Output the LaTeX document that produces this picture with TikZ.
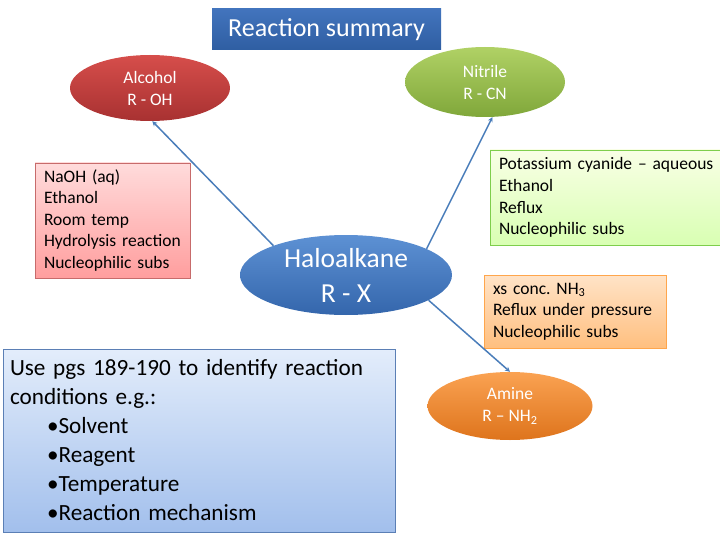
\documentclass[tikz,border=0pt]{standalone}
\usepackage{fontspec}
\setmainfont{Carlito}
\usepackage{xcolor}
\usepackage{tikz}
\usetikzlibrary{shapes.geometric, arrows.meta, positioning}
\frenchspacing

\definecolor{titletop}{HTML}{4274BD}
\definecolor{titlebot}{HTML}{2F5EA2}
\definecolor{alctop}{HTML}{D64E4B}
\definecolor{alcbot}{HTML}{A83131}
\definecolor{nittop}{HTML}{B0D165}
\definecolor{nitbot}{HTML}{80A73A}
\definecolor{haltop}{HTML}{5D91D4}
\definecolor{halbot}{HTML}{3466AC}
\definecolor{amitop}{HTML}{FAA252}
\definecolor{amibot}{HTML}{DE741C}
\definecolor{linkblue}{HTML}{4A7DBA}
\definecolor{notetop}{HTML}{E3EDFB}
\definecolor{notebot}{HTML}{A2BFEC}
\definecolor{noteline}{HTML}{5B7FB5}

\begin{document}
\begin{tikzpicture}[x=1pt, y=-1pt,
  blob/.style={ellipse, inner sep=0pt, draw=none, text=white},
  condbox/.style={rectangle, align=left, inner ysep=0pt, line width=0.6pt},
  link/.style={-{Stealth[length=5pt, width=5pt]}, line width=1.5pt, draw=linkblue}]
  \useasboundingbox (0,0) rectangle (720,540);
  % Title
  \node[rectangle, top color=titletop, bottom color=titlebot, text=white,
        minimum width=229pt, minimum height=41pt, inner sep=0pt,
        font=\fontsize{26}{30}\selectfont] (title) at (326.5,29.5) {Reaction summary};
  % Compounds
  \node[blob, top color=alctop, bottom color=alcbot, minimum width=160pt, minimum height=66pt,
        label={[text=white, align=center, font=\fontsize{17.5}{22}\selectfont]center:Alcohol\\R - OH}] (alc) at (150,88) {};
  \node[blob, top color=nittop, bottom color=nitbot, minimum width=160pt, minimum height=70pt,
        label={[text=white, align=center, font=\fontsize{17.5}{22}\selectfont]center:Nitrile\\R - CN}] (nit) at (485,82) {};
  \node[blob, top color=haltop, bottom color=halbot, minimum width=212pt, minimum height=80pt,
        label={[text=white, align=center, font=\fontsize{27.5}{35}\selectfont]center:Haloalkane\\R - X}] (hal) at (346,275) {};
  \node[blob, top color=amitop, bottom color=amibot, minimum width=165pt, minimum height=68pt,
        label={[text=white, align=center, font=\fontsize{17.5}{22}\selectfont]center:Amine\\R -- NH\textsubscript{2}}] (ami) at (510,406) {};
  % Conditions
  \node[condbox, draw=red!45!gray!80, top color=red!14, bottom color=red!38!white,
        minimum width=155pt, minimum height=115pt, inner xsep=9pt, text width=137pt,
        font=\fontsize{17.5}{21.5}\selectfont] (naoh) at (112.5,220.5)
        {NaOH (aq)\\Ethanol\\Room temp\\Hydrolysis reaction\\Nucleophilic subs};
  \node[condbox, draw=green!45!olive!70, top color=green!25!yellow!10, bottom color=green!50!yellow!30,
        minimum width=235pt, minimum height=95pt, inner xsep=9pt, text width=217pt,
        font=\fontsize{17.5}{21.7}\selectfont] (kcn) at (607.5,197.5)
        {Potassium cyanide -- aqueous\\Ethanol\\Reflux\\Nucleophilic subs};
  \node[condbox, draw=orange!70, top color=orange!22, bottom color=orange!50,
        minimum width=182pt, minimum height=73pt, inner xsep=9pt, text width=164pt,
        font=\fontsize{17.5}{21.5}\selectfont] (nh3) at (575,311.5)
        {xs conc. NH\textsubscript{3}\\Reflux under pressure\\Nucleophilic subs};
  % Note
  \node[condbox, draw=noteline, top color=notetop, bottom color=notebot,
        minimum width=392pt, minimum height=183pt, inner xsep=7pt, text width=378pt,
        font=\fontsize{23.2}{29}\selectfont] (note) at (199,440.5)
        {Use pgs 189-190 to identify reaction\\conditions e.g.:\\
         \hspace*{37pt}\textbullet Solvent\\
         \hspace*{37pt}\textbullet Reagent\\
         \hspace*{37pt}\textbullet Temperature\\
         \hspace*{37pt}\textbullet Reaction mechanism};
  % Links
  \draw[link] (hal.158) -- (alc.-86);
  \draw[link] (hal.18) -- (nit.-78);
  \draw[link] (hal.-17) -- (ami.north);
\end{tikzpicture}
\end{document}
